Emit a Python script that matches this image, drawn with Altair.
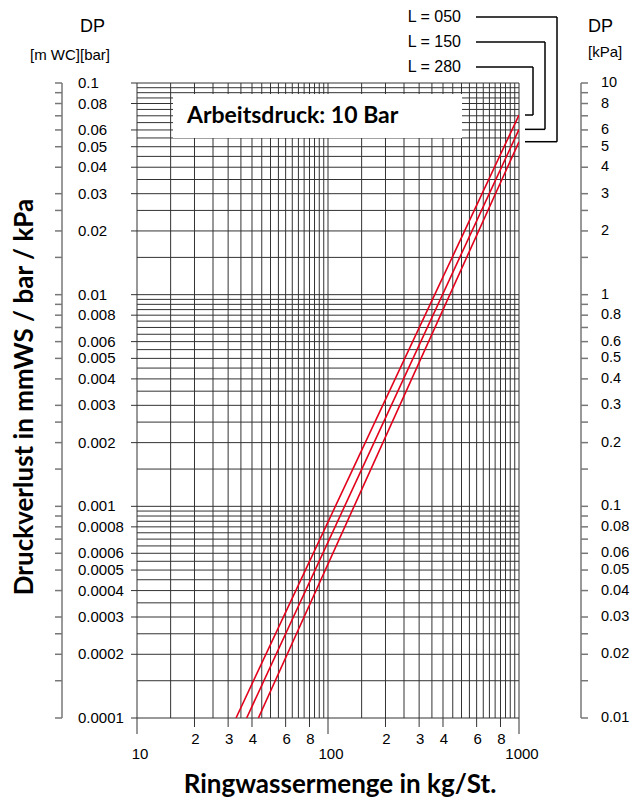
import math
import altair as alt
import pandas as pd

W, H = 382, 635

# ---------------- data ----------------
# vertical grid lines (kg/St.)
x_grid = [10, 15, 20, 25, 30, 35, 40, 45, 50, 55, 60, 65, 70, 75, 80, 85, 90, 95,
          100, 150, 200, 250, 300, 350, 400, 450, 500, 550, 600, 650, 700, 750,
          800, 850, 900, 950, 1000]
# horizontal grid lines (mantissas per decade, bar)
y_mant = [1, 1.5, 2, 2.5, 3, 3.5, 4, 4.5, 5, 5.5, 6, 6.5, 7, 7.5, 8, 8.5, 9, 9.5]
y_decades = [0.0001, 0.001, 0.01]
# ticks on the outer pressure axes
tick_mant = [1, 1.5, 2, 2.5, 3, 4, 5, 6, 7, 8, 9]
# labelled pressure values (bar) and their labels
bar_values = [0.1, 0.08, 0.06, 0.05, 0.04, 0.03, 0.02,
              0.01, 0.008, 0.006, 0.005, 0.004, 0.003, 0.002,
              0.001, 0.0008, 0.0006, 0.0005, 0.0004, 0.0003, 0.0002, 0.0001]
bar_labels = ["0.1", "0.08", "0.06", "0.05", "0.04", "0.03", "0.02",
              "0.01", "0.008", "0.006", "0.005", "0.004", "0.003", "0.002",
              "0.001", "0.0008", "0.0006", "0.0005", "0.0004", "0.0003", "0.0002", "0.0001"]
kpa_labels = ["10", "8", "6", "5", "4", "3", "2",
              "1", "0.8", "0.6", "0.5", "0.4", "0.3", "0.2",
              "0.1", "0.08", "0.06", "0.05", "0.04", "0.03", "0.02", "0.01"]
# x axis labels
x_minor_values = [20, 30, 40, 60, 80, 200, 300, 400, 600, 800]
x_minor_labels = ["2", "3", "4", "6", "8", "2", "3", "4", "6", "8"]
x_major_values = [10, 100, 1000]
x_major_labels = ["10", "100", "1000"]

# curves: pressure loss for the three sizes
series = ["L = 280", "L = 150", "L = 050"]
flow_start = [33.0, 37.5, 43.2]
flow_end = [1000, 1000, 1000]
dp_start = [0.0001, 0.0001, 0.0001]
dp_end = [0.0706, 0.0604, 0.0528]

# ---------------- tables ----------------
curve_df = pd.DataFrame({
    "serie": series * 2,
    "flow": flow_start + flow_end,
    "dp": dp_start + dp_end,
})
xg_df = pd.DataFrame({"v": x_grid})
yg_vals = [m * d for d in y_decades for m in y_mant] + [0.1]
yg_df = pd.DataFrame({"v": yg_vals})
ytick_vals = [m * d for d in y_decades for m in tick_mant] + [0.1]
ytick_df = pd.DataFrame({"v": ytick_vals})
ylab_df = pd.DataFrame({"v": bar_values, "bar": bar_labels, "kpa": kpa_labels})
xmin_df = pd.DataFrame({"v": x_minor_values, "t": x_minor_labels})
xmaj_df = pd.DataFrame({"v": x_major_values, "t": x_major_labels})
one_df = pd.DataFrame({"k": [0]})  # single row for one-off marks

xs = alt.Scale(type="log", domain=[10, 1000], nice=False)
ys = alt.Scale(type="log", domain=[0.0001, 0.1], nice=False)

FONT = "Liberation Sans, Arial, sans-serif"
BOLD = "Lato, sans-serif"
GRID = "#333333"
AX = "#777777"
TS = 15  # tick label size


def X(f="v"):
    return alt.X(f"{f}:Q", scale=xs, axis=None)


def Y(f="v"):
    return alt.Y(f"{f}:Q", scale=ys, axis=None)


grid_v = alt.Chart(xg_df).mark_rule(color=GRID, strokeWidth=1).encode(
    x=X(), y=alt.value(0), y2=alt.value(H))
grid_h = alt.Chart(yg_df).mark_rule(color=GRID, strokeWidth=1).encode(
    y=Y(), x=alt.value(0), x2=alt.value(W))
grid_h_ticks = alt.Chart(ylab_df).mark_rule(color=GRID, strokeWidth=1).encode(
    y=Y(), x=alt.value(-6), x2=alt.value(0))
xtick_minor = alt.Chart(xmin_df).mark_rule(color=GRID, strokeWidth=1).encode(
    x=X(), y=alt.value(H), y2=alt.value(H + 9))
xtick_major = alt.Chart(xmaj_df).mark_rule(color=GRID, strokeWidth=1).encode(
    x=X(), y=alt.value(H), y2=alt.value(H + 16))
xlab_minor = alt.Chart(xmin_df).mark_text(font=FONT, fontSize=TS, baseline="middle", align="center", dx=1).encode(
    x=X(), y=alt.value(H + 21), text="t:N")
xlab_major = alt.Chart(xmaj_df).mark_text(font=FONT, fontSize=TS, baseline="middle", align="center", dx=3).encode(
    x=X(), y=alt.value(H + 36), text="t:N")

# left (bar) axis
l_line = alt.Chart(one_df).mark_rule(color=AX, strokeWidth=1.5).encode(
    x=alt.value(-75), y=alt.value(0), y2=alt.value(H))
l_ticks = alt.Chart(ytick_df).mark_rule(color=AX, strokeWidth=1.5).encode(
    y=Y(), x=alt.value(-82), x2=alt.value(-75))
l_labels = alt.Chart(ylab_df).mark_text(font=FONT, fontSize=TS, align="left", baseline="middle").encode(
    y=Y(), x=alt.value(-59), text="bar:N")
# right (kPa) axis
r_line = alt.Chart(one_df).mark_rule(color=AX, strokeWidth=1.5).encode(
    x=alt.value(444), y=alt.value(0), y2=alt.value(H))
r_ticks = alt.Chart(ytick_df).mark_rule(color=AX, strokeWidth=1.5).encode(
    y=Y(), x=alt.value(444), x2=alt.value(451))
r_labels = alt.Chart(ylab_df).mark_text(font=FONT, fontSize=14.5, align="left", baseline="middle").encode(
    y=Y(), x=alt.value(464), text="kpa:N")

curves = alt.Chart(curve_df).mark_line(color="#e3001b", strokeWidth=1.6, clip=True).encode(
    x=alt.X("flow:Q", scale=xs, axis=None),
    y=alt.Y("dp:Q", scale=ys, axis=None),
    detail="serie:N")

box = alt.Chart(one_df).mark_rect(color="white").encode(
    x=alt.value(36), x2=alt.value(325), y=alt.value(11), y2=alt.value(55))
box_text = alt.Chart(one_df).mark_text(font=BOLD, fontWeight="bold", fontSize=23,
                                       align="left", baseline="middle").encode(
    x=alt.value(50), y=alt.value(33), text=alt.value("Arbeitsdruck: 10 Bar"))

main = alt.layer(grid_v, grid_h, grid_h_ticks, xtick_minor, xtick_major, xlab_minor, xlab_major,
                 l_line, l_ticks, l_labels, r_line, r_ticks, r_labels,
                 box, box_text, curves)

# ---------------- annotations (pixel space) ----------------
def ypx(v):
    return H * (math.log10(0.1) - math.log10(v)) / 3


leg_y = [-16, -41, -66]          # label rows for L=280, L=150, L=050
leg_vx = [396, 408, 420]         # vertical run of each connector
seg = []
for ly, vx, e in zip(leg_y, leg_vx, dp_end):
    ey = ypx(e)
    seg.append({"x": 339, "y": ly, "x2": vx, "y2": ly})
    seg.append({"x": vx, "y": ly, "x2": vx, "y2": ey})
    seg.append({"x": vx, "y": ey, "x2": 388, "y2": ey})
seg_df = pd.DataFrame(seg)
leg_df = pd.DataFrame({"t": series, "y": leg_y})

connectors = alt.Chart(seg_df).mark_rule(color="black", strokeWidth=1.5).encode(
    x=alt.X("x:Q", scale=None, axis=None), y=alt.Y("y:Q", scale=None, axis=None),
    x2="x2:Q", y2="y2:Q")
leg_text = alt.Chart(leg_df).mark_text(font=FONT, fontSize=16, align="right", baseline="middle").encode(
    x=alt.value(324), y=alt.Y("y:Q", scale=None, axis=None), text="t:N")


def label(txt, x, y, size=16, bold=False, align="left", angle=0):
    m = alt.Chart(one_df).mark_text(
        font=BOLD if bold else FONT, fontWeight="bold" if bold else "normal",
        fontSize=size, align=align, baseline="middle", angle=angle)
    return m.encode(x=alt.value(x), y=alt.value(y), text=alt.value(txt))


texts = [
    label("DP", -57, -56, size=18),
    label("[m WC][bar]", -107, -28, size=15),
    label("DP", 451, -56, size=18),
    label("[kPa]", 451, -31, size=15),
    label("Ringwassermenge in kg/St.", 203, 702, size=26, bold=True, align="center"),
    label("Druckverlust in mmWS / bar / kPa", -112, 314, size=26, bold=True, align="center", angle=270),
]

annot = alt.layer(connectors, leg_text, *texts)

chart = alt.layer(main, annot).resolve_scale(x="independent", y="independent").properties(
    width=W, height=H,
    autosize=alt.AutoSizeParams(type="none"),
    padding={"left": 129, "top": 75, "right": 111, "bottom": 84},
    background="white",
).configure_view(stroke=None)

chart.save("out.html", embed_options={"renderer": "svg", "actions": False})
